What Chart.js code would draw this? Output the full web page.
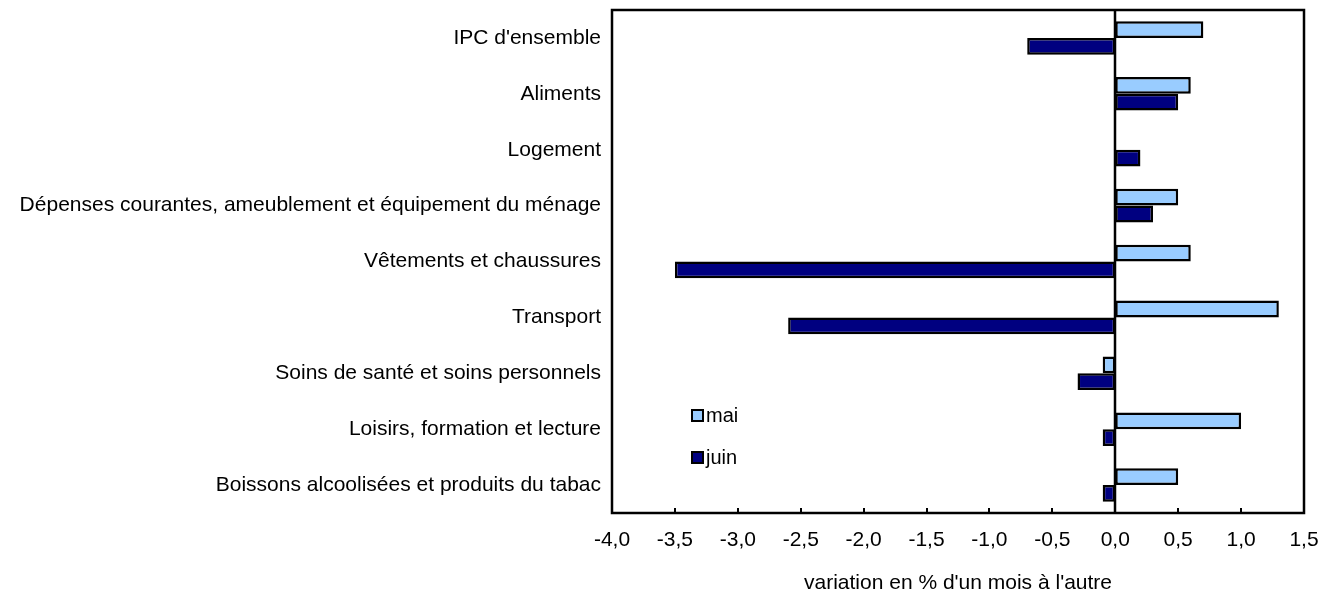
<!DOCTYPE html>
<html>
<head>
<meta charset="utf-8">
<script src="https://cdn.jsdelivr.net/npm/chart.js@4.4.0/dist/chart.umd.min.js"></script>
<style>
  html, body { margin: 0; padding: 0; background: #fff; }
  #wrap { width: 1320px; height: 600px; }
</style>
</head>
<body>
<div id="wrap"><canvas id="chart" width="1320" height="600"></canvas></div>
<script>
const categories = [
    "IPC d'ensemble",
    'Aliments',
    'Logement',
    'Dépenses courantes, ameublement et équipement du ménage',
    'Vêtements et chaussures',
    'Transport',
    'Soins de santé et soins personnels',
    'Loisirs, formation et lecture',
    'Boissons alcoolisées et produits du tabac'
];
const seriesNames = ['mai', 'juin'];
const maiValues = [0.7, 0.6, 0.0, 0.5, 0.6, 1.3, -0.1, 1.0, 0.5];
const juinValues = [-0.7, 0.5, 0.2, 0.3, -3.5, -2.6, -0.3, -0.1, -0.1];
const xTicks = [-4.0, -3.5, -3.0, -2.5, -2.0, -1.5, -1.0, -0.5, 0.0, 0.5, 1.0, 1.5];
const axisTitle = "variation en % d'un mois à l'autre";

const colors = ['#99CCFF', '#000080'];
const fontFamily = 'Arial, "Liberation Sans", sans-serif';
const font = { family: fontFamily, size: 21 };

// frame, zero line, inward ticks and legend
const decorations = {
    id: 'decorations',
    afterDatasetsDraw(chart) {
        const { ctx, chartArea: a, scales } = chart;
        const x = scales.x;
        ctx.save();
        ctx.strokeStyle = '#000';
        ctx.lineWidth = 2.5;
        ctx.strokeRect(a.left, a.top, a.right - a.left, a.bottom - a.top);
        const x0 = Math.round(x.getPixelForValue(0));
        ctx.beginPath();
        ctx.moveTo(x0, a.top);
        ctx.lineTo(x0, a.bottom);
        ctx.stroke();
        ctx.lineWidth = 2;
        xTicks.forEach(t => {
            const px = Math.round(x.getPixelForValue(t));
            ctx.beginPath();
            ctx.moveTo(px, a.bottom);
            ctx.lineTo(px, a.bottom - 5);
            ctx.stroke();
        });
        // legend
        ctx.font = '20px ' + fontFamily;
        ctx.textBaseline = 'middle';
        seriesNames.forEach((name, i) => {
            const lx = a.left + 80, ly = a.top + 405 + i * 42;
            ctx.fillStyle = colors[i];
            ctx.fillRect(lx, ly - 5, 11, 11);
            ctx.lineWidth = 2;
            ctx.strokeStyle = '#000';
            ctx.strokeRect(lx, ly - 5, 11, 11);
            ctx.fillStyle = '#000';
            ctx.fillText(name, lx + 14, ly + 1);
        });
        ctx.restore();
    }
};

new Chart(document.getElementById('chart'), {
    type: 'bar',
    data: {
        labels: categories,
        datasets: [
            { label: seriesNames[0], data: maiValues, backgroundColor: colors[0] },
            { label: seriesNames[1], data: juinValues, backgroundColor: colors[1] }
        ].map(d => Object.assign(d, {
            borderColor: '#000',
            borderWidth: 2.5,
            borderSkipped: false,
            categoryPercentage: 0.6,
            barPercentage: 1
        }))
    },
    options: {
        indexAxis: 'y',
        responsive: false,
        animation: false,
        layout: { padding: { top: 10, right: 16, left: 0, bottom: 0 } },
        plugins: {
            legend: { display: false },
            tooltip: { enabled: false }
        },
        scales: {
            x: {
                min: -4,
                max: 1.5,
                afterBuildTicks: s => { s.ticks = xTicks.map(v => ({ value: v })); },
                afterFit: s => { s.height = 87; s.paddingLeft = 0; s.paddingRight = 0; },
                grid: { display: false, drawTicks: false },
                border: { display: false },
                ticks: {
                    color: '#000',
                    font: font,
                    padding: 15,
                    callback: v => Number(v).toFixed(1).replace('.', ',')
                },
                title: {
                    display: true,
                    text: axisTitle,
                    color: '#000',
                    font: font,
                    padding: { top: 18 }
                }
            },
            y: {
                afterFit: s => { s.width = 612; s.paddingTop = 0; s.paddingBottom = 0; },
                grid: { display: false, drawTicks: false },
                border: { display: false },
                ticks: { color: '#000', font: font, padding: 11 }
            }
        }
    },
    plugins: [decorations]
});
</script>
</body>
</html>
